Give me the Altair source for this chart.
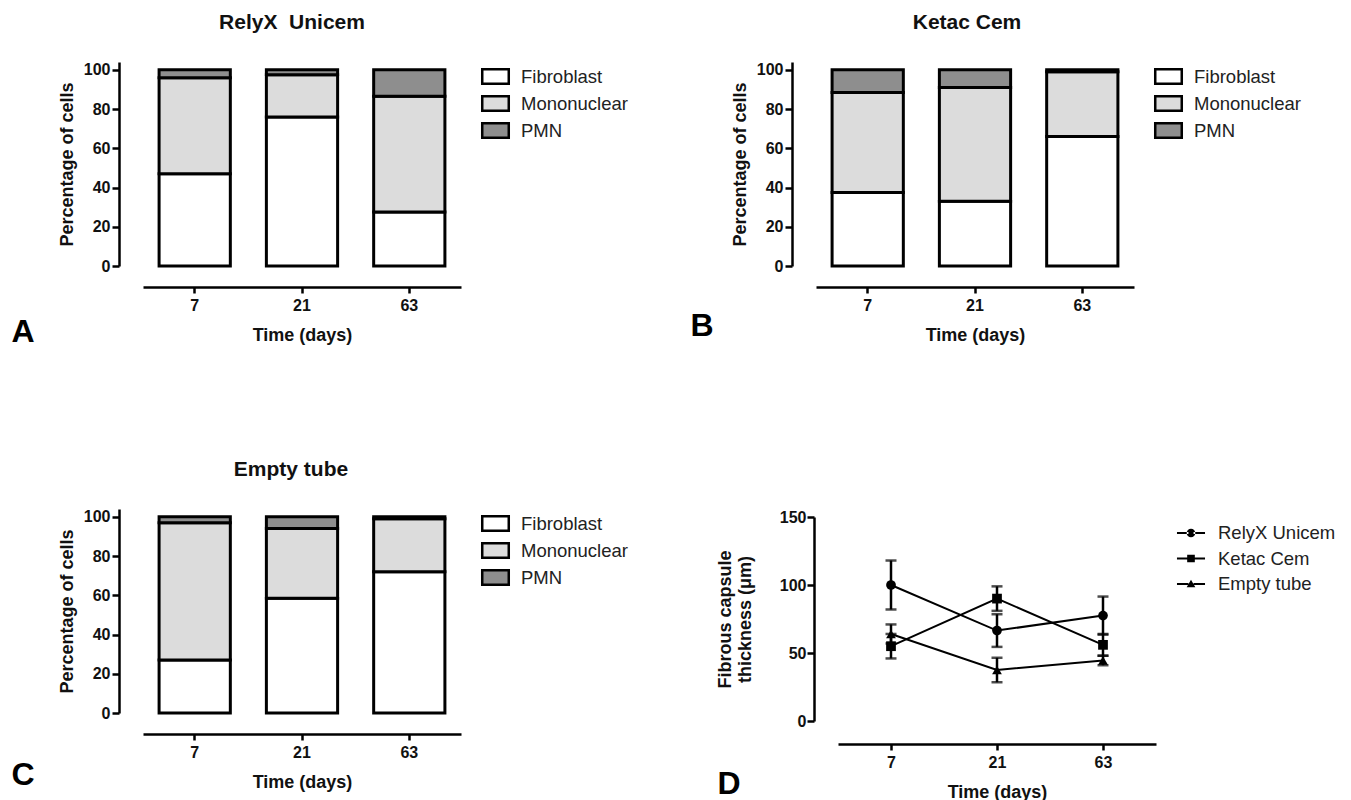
import altair as alt
import pandas as pd

FONT = "Liberation Sans"

# ---------------- data ----------------
days = ["7", "21", "63"]
cells = ["Fibroblast", "Mononuclear", "PMN"]
cell_colors = ["#ffffff", "#dcdcdc", "#8e8e8e"]

relyx_fib = [47, 76, 27.5]
relyx_mono = [49, 21.5, 59]
relyx_pmn = [4, 2.5, 13.5]

ketac_fib = [37.5, 33, 66]
ketac_mono = [51, 58, 33]
ketac_pmn = [11.5, 9, 1]

empty_fib = [27, 58.5, 72]
empty_mono = [70, 35.5, 27]
empty_pmn = [3, 6, 1]

groups = ["RelyX Unicem", "Ketac Cem", "Empty tube"]
relyx_thick = [100, 66.5, 77.5]
relyx_sem = [18, 12, 14]
ketac_thick = [55, 90, 56]
ketac_sem = [9, 9, 8]
empty_thick = [64, 37.5, 44.5]
empty_sem = [7, 9, 3.5]

bar_ticks = [0, 20, 40, 60, 80, 100]
thick_ticks = [0, 50, 100, 150]

W = 318
H = 204


def bar_panel(title, fib, mono, pmn, letter, lx, ly, tdx):
    rows = []
    for i, d in enumerate(days):
        for j, (c, v) in enumerate(zip(cells, [fib[i], mono[i], pmn[i]])):
            rows.append({"day": d, "cell": c, "value": v, "order": j})
    df = pd.DataFrame(rows)
    bars = alt.Chart(df).mark_bar(stroke="black", strokeWidth=3).encode(
        x=alt.X("day:N", sort=days, title="Time (days)",
                scale=alt.Scale(paddingInner=0.336, paddingOuter=0.15),
                axis=alt.Axis(labelAngle=0, offset=21, tickSize=6,
                              labelPadding=4, titlePadding=13)),
        y=alt.Y("value:Q", stack="zero", title="Percentage of cells",
                scale=alt.Scale(domain=[0, 104], nice=False),
                axis=alt.Axis(values=bar_ticks, offset=24, tickSize=7,
                              labelPadding=2, titlePadding=7)),
        fill=alt.Fill("cell:N", scale=alt.Scale(domain=cells, range=cell_colors),
                      legend=alt.Legend(title=None, orient="right", offset=20,
                                        padding=0,
                                        symbolType="M-1.02,-0.56H1.02V0.56H-1.02Z",
                                        symbolSize=676, symbolStrokeColor="black",
                                        symbolStrokeWidth=2.5, labelOffset=11,
                                        rowPadding=0)),
        order=alt.Order("order:Q", sort="ascending"),
    )
    lab = alt.Chart(pd.DataFrame({"t": [letter]})).mark_text(
        font=FONT, fontSize=32, fontWeight="bold", align="center",
        baseline="middle", color="black"
    ).encode(text="t:N", x=alt.value(lx), y=alt.value(ly))
    return alt.layer(bars, lab).properties(
        width=W, height=H,
        title=alt.TitleParams(title, font=FONT, fontSize=21, fontWeight="bold",
                              color="#111", dx=tdx, offset=12, baseline="alphabetic"),
    )


A = bar_panel("RelyX\u00a0 Unicem", relyx_fib, relyx_mono, relyx_pmn, "A", -120, 270, -10)
B = bar_panel("Ketac Cem", ketac_fib, ketac_mono, ketac_pmn, "B", -114, 264, -8)
C = bar_panel("Empty tube", empty_fib, empty_mono, empty_pmn, "C", -120, 266, -11)

# ---------------- panel D ----------------
rows = []
for g, means, sems in [("RelyX Unicem", relyx_thick, relyx_sem),
                       ("Ketac Cem", ketac_thick, ketac_sem),
                       ("Empty tube", empty_thick, empty_sem)]:
    for d, m, s in zip(days, means, sems):
        rows.append({"day": d, "group": g, "mean": m, "lo": m - s, "hi": m + s})
ddf = pd.DataFrame(rows)

HD = 212
xD = alt.X("day:N", sort=days, title="Time (days)",
           scale=alt.Scale(type="point", padding=0.5),
           axis=alt.Axis(labelAngle=0, offset=23, tickSize=6, labelPadding=4,
                         titlePadding=13))
yscale = alt.Scale(domain=[0, 150], range=[HD, 8], nice=False)
ytitle = ["Fibrous capsule", "thickness (\u03bcm)"]
yaxis = alt.Axis(values=thick_ticks, offset=24, tickSize=7, labelPadding=1,
                 titlePadding=25, titleLineHeight=20)


def yD(field):
    return alt.Y(field, scale=yscale, axis=yaxis, title=ytitle)


base = alt.Chart(ddf)
err = base.mark_rule(color="black", strokeWidth=2.5).encode(x=xD, y=yD("lo:Q"), y2="hi:Q")
cap_lo = base.mark_tick(color="black", thickness=2.5, size=11).encode(x=xD, y=yD("lo:Q"))
cap_hi = base.mark_tick(color="black", thickness=2.5, size=11).encode(x=xD, y=yD("hi:Q"))
line = base.mark_line(color="black", strokeWidth=2).encode(x=xD, y=yD("mean:Q"), detail="group:N")
pts = base.mark_point(filled=True, color="black", size=95, opacity=1).encode(
    x=xD, y=yD("mean:Q"),
    shape=alt.Shape("group:N", scale=alt.Scale(domain=groups,
                                               range=["circle", "square", "triangle-up"]),
                    legend=None))
seg = "M-1.1,-0.08H-0.2V0.08H-1.1Z M0.2,-0.08H1.1V0.08H0.2Z "
leg_paths = [
    seg + "M-0.34,0A0.34,0.34,0,1,0,0.34,0A0.34,0.34,0,1,0,-0.34,0Z",
    seg + "M-0.3,-0.3H0.3V0.3H-0.3Z",
    seg + "M0,-0.34L0.34,0.26H-0.34Z",
]
legpts = base.mark_point(filled=True, color="black", opacity=0).encode(
    x=xD, y=yD("mean:Q"),
    shape=alt.Shape("group:N", scale=alt.Scale(domain=groups, range=leg_paths),
                    legend=alt.Legend(title=None, orient="none", legendX=340, legendY=11,
                                      padding=0, symbolSize=650, symbolOpacity=1,
                                      symbolFillColor="black", symbolStrokeColor="black",
                                      symbolStrokeWidth=0, labelOffset=14, rowPadding=2.5)))
labD = alt.Chart(pd.DataFrame({"t": ["D"]})).mark_text(
    font=FONT, fontSize=32, fontWeight="bold", align="center",
    baseline="middle", color="black"
).encode(text="t:N", x=alt.value(-109), y=alt.value(275))

D = alt.layer(err, cap_lo, cap_hi, line, pts, legpts, labD).resolve_scale(
    shape="independent").properties(width=W, height=HD)

chart = alt.vconcat(
    alt.hconcat(A, B, spacing=62).resolve_scale(fill="independent"),
    alt.hconcat(C, D, spacing=88).resolve_scale(fill="independent"),
    spacing=110,
).resolve_scale(fill="independent", shape="independent").configure_view(
    stroke=None
).configure_axis(
    domainColor="black", domainWidth=2.5, tickColor="black", tickWidth=2.5,
    grid=False, labelFont=FONT, labelFontSize=16, labelFontWeight="bold",
    labelColor="#111", titleFont=FONT, titleFontSize=18, titleFontWeight="bold",
    titleColor="#111",
).configure_legend(
    labelFont=FONT, labelFontSize=18.5, labelColor="#222",
).properties(padding={"left": 3, "top": 3, "right": 5, "bottom": 5})

chart.save("out.html", embed_options={"renderer": "svg", "actions": False})
